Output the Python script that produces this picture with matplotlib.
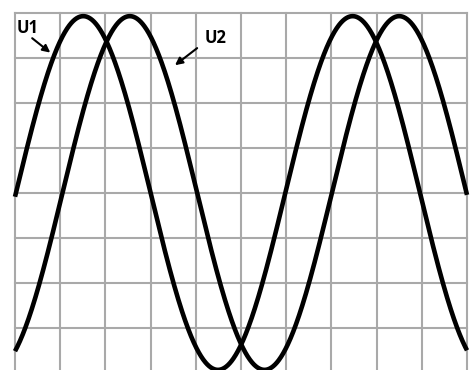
import numpy as np
import matplotlib.pyplot as plt

# screen: 10 horizontal divisions, vertical divisions -4..4 around the centre line
x_divs = np.arange(0, 11)
y_divs = np.arange(-4, 5)

# waveform parameters in divisions
names = ["U1", "U2"]
amplitude = [3.93, 3.93]
period = [5.96, 5.96]
peak_at = [1.51, 2.54]

label_pos = [(0.04, 3.55), (4.2, 3.33)]
arrow_tail = [(0.38, 3.44), (4.03, 3.22)]
arrow_head = [(0.78, 3.12), (3.54, 2.84)]

fig = plt.figure(figsize=(4.75, 3.7), dpi=100)
ax = fig.add_axes([0, 0, 1, 1])
ax.set_xlim(-0.332, 10.177)
ax.set_ylim(-3.933, 4.289)
ax.axis("off")

grid_c = "#a9a9a9"
for xv in x_divs:
    ax.plot([xv, xv], [y_divs[0], y_divs[-1]], color=grid_c, lw=1.5, zorder=1)
for yv in y_divs:
    ax.plot([x_divs[0], x_divs[-1]], [yv, yv], color=grid_c, lw=1.5, zorder=1)

t = np.linspace(x_divs[0], x_divs[-1], 1000)
for a, p, pk in zip(amplitude, period, peak_at):
    u = a * np.cos(2 * np.pi * (t - pk) / p)
    ax.plot(t, u, color="black", lw=3.3, zorder=3, solid_capstyle="butt")

for name, pos, tail, head in zip(names, label_pos, arrow_tail, arrow_head):
    ax.text(pos[0], pos[1], name, fontsize=12, fontweight="bold",
            family="Open Sans", va="baseline", ha="left", zorder=4)
    ax.annotate("", xy=head, xytext=tail,
                arrowprops=dict(arrowstyle="-|>", color="black", lw=1.5,
                                mutation_scale=11, shrinkA=0, shrinkB=0),
                zorder=4)

fig.savefig("out.png", dpi=100)
